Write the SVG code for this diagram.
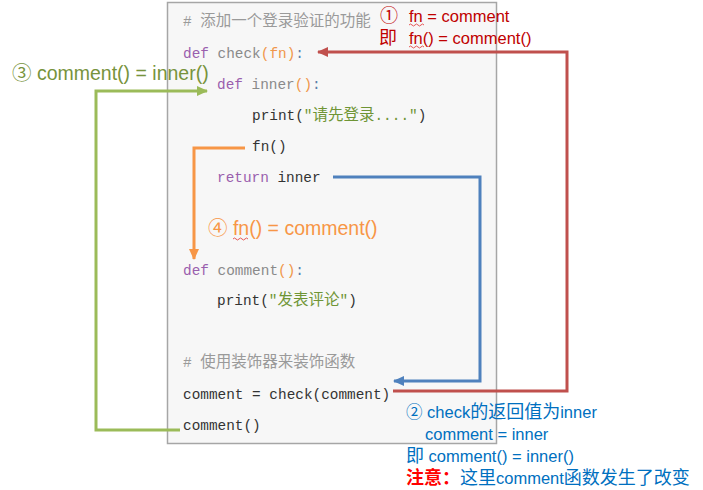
<svg xmlns="http://www.w3.org/2000/svg" width="703" height="490" viewBox="0 0 703 490">
<style>
.code{font-family:"Liberation Mono","DejaVu Sans Mono","Noto Sans CJK SC",monospace;font-size:14.4px;fill:#333}
.cjk{font-size:15.5px}
.kw{fill:#9a5fae}.fnm{fill:#8a8a8a}.par{fill:#f0964a}.col{fill:#5a7fa8}.str{fill:#6f9535}.cm{fill:#9a9a9a}
.lab{font-family:"Liberation Sans","Noto Sans CJK SC",sans-serif}
.zh{font-size:18px}
.line{fill:none;stroke-width:3}
</style>
<defs>
<marker id="aR" markerWidth="12" markerHeight="12" refX="10" refY="6" orient="auto" markerUnits="userSpaceOnUse"><path d="M0,1 L11,6 L0,11 z" fill="#c0504d"/></marker>
<marker id="aB" markerWidth="12" markerHeight="12" refX="10" refY="6" orient="auto" markerUnits="userSpaceOnUse"><path d="M0,1 L11,6 L0,11 z" fill="#4f81bd"/></marker>
<marker id="aG" markerWidth="12" markerHeight="12" refX="10" refY="6" orient="auto" markerUnits="userSpaceOnUse"><path d="M0,1 L11,6 L0,11 z" fill="#9bbb59"/></marker>
<marker id="aO" markerWidth="12" markerHeight="12" refX="10" refY="6" orient="auto" markerUnits="userSpaceOnUse"><path d="M0,1 L11,6 L0,11 z" fill="#f79646"/></marker>
</defs>
<rect width="703" height="490" fill="#fff"/>
<g id="code">
<rect x="167.5" y="2.5" width="329" height="441" fill="#f7f7f7" stroke="#a6a6a6" stroke-width="1.5"/>
<text class="code" x="183" y="26"><tspan class="cm"># <tspan class="cjk">添加一个登录验证的功能</tspan></tspan></text>
<text class="code" x="183" y="58" xml:space="preserve"><tspan class="kw">def</tspan> <tspan class="fnm">check</tspan><tspan class="par">(fn)</tspan><tspan class="col">:</tspan></text>
<text class="code" x="217" y="89" xml:space="preserve"><tspan class="kw">def</tspan> <tspan class="fnm">inner</tspan><tspan class="par">()</tspan><tspan class="col">:</tspan></text>
<text class="code" x="252" y="120">print(<tspan class="str">"<tspan class="cjk">请先登录</tspan>...."</tspan>)</text>
<text class="code" x="252" y="151">fn()</text>
<text class="code" x="217" y="182" xml:space="preserve"><tspan class="kw">return</tspan> inner</text>
<text class="code" x="183" y="275" xml:space="preserve"><tspan class="kw">def</tspan> <tspan class="fnm">comment</tspan><tspan class="par">()</tspan><tspan class="col">:</tspan></text>
<text class="code" x="217" y="305">print(<tspan class="str">"<tspan class="cjk">发表评论</tspan>"</tspan>)</text>
<text class="code" x="183" y="367"><tspan class="cm"># <tspan class="cjk">使用装饰器来装饰函数</tspan></tspan></text>
<text class="code" x="183" y="399">comment = check(comment)</text>
<text class="code" x="183" y="430">comment()</text>
</g>
<g id="connectors">
<polyline class="line" stroke="#c0504d" points="393,391 567,391 567,52 318,52" marker-end="url(#aR)"/>
<polyline class="line" stroke="#4f81bd" points="333,177 480,177 480,381 394,381" marker-end="url(#aB)"/>
<polyline class="line" stroke="#9bbb59" points="180,430 96,430 96,91 207,91" marker-end="url(#aG)"/>
<polyline class="line" stroke="#f79646" points="245,148 194,148 194,259" marker-end="url(#aO)"/>
</g>
<g id="label1" class="lab" fill="#c00000" font-size="16.5">
<text x="380" y="22" font-size="18">①</text>
<text x="409" y="22">fn = comment</text>
<text x="379" y="44" font-size="18">即</text>
<text x="409" y="44">fn() = comment()</text>
<path d="M409,25 q1.5,-2 3,0 t3,0 t3,0 t3,0 t3,0" fill="none" stroke="#e03030" stroke-width="0.8"/>
<path d="M409,47 q1.5,-2 3,0 t3,0 t3,0 t3,0 t3,0" fill="none" stroke="#e03030" stroke-width="0.8"/>
</g>
<g id="label3" class="lab" fill="#77933c" font-size="19.5">
<text x="12" y="80">③ comment() = inner()</text>
</g>
<g id="label4" class="lab" fill="#f79646" font-size="19.5">
<text x="208" y="235">④ fn() = comment()</text>
<path d="M233,239 q1.5,-2 3,0 t3,0 t3,0 t3,0 t3,0" fill="none" stroke="#e03030" stroke-width="0.8"/>
</g>
<g id="label2" class="lab" fill="#0070c0" font-size="16.5">
<text x="406" y="418">② check<tspan class="zh">的返回值为</tspan>inner</text>
<text x="425" y="440">comment = inner</text>
<text x="406" y="462"><tspan class="zh">即</tspan> comment() = inner()</text>
<text x="406" y="484"><tspan class="zh" fill="#ff0000" font-weight="bold">注意：</tspan><tspan class="zh">这里</tspan>comment<tspan class="zh">函数发生了改变</tspan></text>
</g>
</svg>
